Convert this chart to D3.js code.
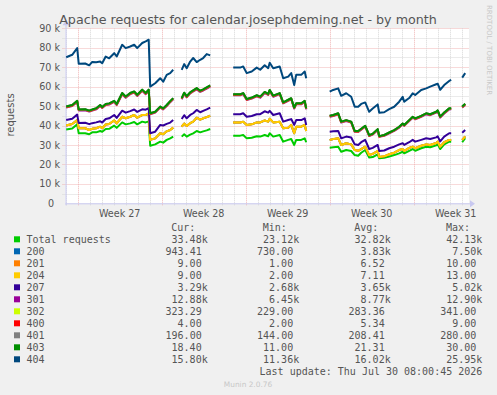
<!DOCTYPE html>
<html><head><meta charset="utf-8">
<script src="https://cdn.jsdelivr.net/npm/d3@7"></script>
<style>html,body{margin:0;padding:0;background:#f0f0f0;}svg{display:block}</style>
</head><body><svg id="c" width="497" height="395"></svg>
<script>
// ---- data (hours after Mon 2026-06-29 00:00; null rows are data gaps) ----
const hours = [-23,-11,-1,2,15,23,29,37,45,49,56,63,73,78,89,96,105,113,119,129,136,142,145,155,165,171,178,185,191,
193,
208,213,218,225,231,238,245,251,258,265,
267,
311,325,331,338,348,358,365,374,381,384,391,404,411,421,427,433,437,447,454,457,
459,
504,511,521,527,537,547,554,561,567,575,583,590,600,603,613,623,633,643,650,653,663,670,675,687,697,705,717,720,725,733,743,747,
749,
769,775];

const total = [38000,38500,40600,36000,36000,35500,36500,36500,37200,36800,38200,38300,39900,38800,41600,40600,41100,41800,40600,42000,41600,42130,29600,30300,31700,31200,32600,33400,34300,
null,
34300,35500,34300,35300,36000,37200,36500,37000,37500,38200,
null,
34800,34800,35100,33400,33700,34500,34300,35100,34500,36000,34300,35100,31700,32600,33100,30000,32600,32600,33400,31400,
null,
28600,28800,29100,26500,27400,26900,24800,24500,26000,27400,23500,23800,25200,23120,23400,24000,24800,25700,26500,25700,27000,27900,27000,28300,29100,28800,29800,30300,27900,30300,31700,31700,
null,
31400,33480];

const s200 = [2000,2300,2200,2600,2600,2200,1800,2100,2200,1800,2300,2500,2700,2300,2900,3100,3400,3600,3400,3400,3800,4150,3000,3100,4300,4300,4400,4300,4600,
null,
5100,5500,5500,5900,6000,6800,6500,6700,6800,6800,
null,
6800,6800,6800,6900,6900,7100,7300,7500,7500,7500,7300,6800,6900,6300,7200,6000,6800,6800,6900,5800,
null,
4000,4200,4300,3500,3500,3400,2600,2500,1900,1700,1300,1600,1700,730,730,1200,1200,1700,1400,1200,1500,1200,1300,1300,1200,1200,1200,1400,1200,1100,900,900,
null,
1200,943];

const s201 = [7,8,6,9,5,7,8,6,7,9,8,6,7,5,8,9,7,6,8,7,10,6,5,7,8,6,9,7,8,
null,
6,7,5,8,6,7,9,6,7,8,
null,
7,6,8,5,7,6,9,8,6,7,5,6,8,7,6,9,7,5,6,8,
null,
6,7,5,8,6,7,4,6,5,7,8,6,1,5,7,6,8,7,5,6,7,9,6,5,7,8,6,7,5,6,8,7,
null,
8,9];

const s204 = [8,7,9,6,8,7,10,7,6,8,9,7,6,8,7,9,11,6,7,8,7,6,9,8,5,7,8,7,6,
null,
7,8,6,9,7,13,8,6,7,8,
null,
7,6,8,7,9,6,8,7,5,6,8,7,6,9,7,8,6,7,5,8,
null,
7,6,8,5,7,6,8,7,6,5,7,8,6,7,2,6,7,8,6,7,5,8,7,6,7,8,6,7,9,7,6,8,
null,
8,9];

const s207 = [2800,2700,2800,2700,2800,3000,2900,3000,2800,2900,2800,2900,2800,2800,3100,2900,2900,2800,3000,2900,2700,2700,3400,3400,4300,4500,3800,3800,3900,
null,
3900,4300,3900,4200,4300,4000,3800,3800,4000,4200,
null,
4200,4200,4400,4200,4300,4200,4200,4700,4600,4000,3800,4400,3400,3900,3000,4300,3400,3400,3400,3100,
null,
4200,4000,3800,3400,3400,3500,2900,3000,3500,3500,3100,3100,3100,3000,3000,3100,3100,2900,3000,3100,2900,3500,3400,3000,3100,3100,2900,2700,2700,2900,3400,3400,
null,
3700,3290];

const s301 = [6450,6500,6500,6450,6450,6450,6450,6700,7800,7500,7200,7100,6700,6600,8500,7700,8700,8700,8200,9500,8000,8800,9800,9800,8900,8300,9200,10500,10700,
null,
10200,11000,10800,11100,11200,10600,10500,10500,10700,10800,
null,
9700,9700,9800,8600,8900,9200,8500,9400,9100,10200,9400,9800,9400,9900,10200,8400,8100,8100,8400,8000,
null,
7700,7900,8600,8100,8000,7700,6450,6700,6450,6800,6700,6800,7700,7300,7600,7700,8100,8600,9700,9800,10900,11400,11500,11900,12400,12200,12700,12900,12300,11900,12300,12300,
null,
12900,12880];

const s302 = [290,295,300,280,285,275,290,295,300,285,290,295,305,300,310,305,315,320,310,325,330,340,270,275,285,280,290,295,300,
null,
295,305,300,310,315,320,315,318,325,330,
null,
300,302,305,295,290,298,302,296,305,310,300,292,280,284,288,276,282,285,288,274,
null,
260,262,266,250,255,252,240,242,248,252,236,238,244,229,232,240,246,250,256,262,258,264,270,268,276,282,286,292,280,290,298,302,
null,
315,323];

const s400 = [5,6,4,7,5,6,8,5,4,6,7,5,6,9,5,4,6,7,5,6,4,5,7,6,5,8,6,5,4,
null,
6,5,7,4,6,5,8,6,5,7,
null,
5,6,4,5,7,6,5,8,6,4,5,7,6,5,4,6,7,5,6,5,
null,
4,6,5,7,5,6,3,4,6,5,7,4,2,5,6,4,5,7,6,4,5,6,4,5,7,6,5,4,6,5,4,5,
null,
5,4];

const s401 = [230,240,250,220,215,210,225,230,235,225,240,245,255,240,260,250,265,270,255,275,268,280,200,205,215,210,222,228,235,
null,
230,245,238,250,255,262,250,256,262,268,
null,
240,238,242,230,232,236,234,240,236,245,232,236,220,225,230,214,226,224,230,215,
null,
205,208,210,198,200,196,185,184,188,194,176,178,182,150,144,152,160,168,162,170,176,172,180,178,186,188,182,176,184,190,194,192,
null,
190,196];

const s403 = [22,24,26,20,21,19,22,23,24,22,25,26,27,24,28,26,29,30,27,29,28,30,18,19,21,20,22,23,24,
null,
23,25,24,26,27,28,26,27,28,29,
null,
24,23,25,22,23,24,23,25,24,26,23,24,20,21,22,19,21,22,23,20,
null,
18,19,20,17,18,17,15,15,16,17,14,14,15,11,12,13,14,15,14,15,16,15,16,16,17,17,16,15,17,18,18,17,
null,
17,18];

const s404 = [25300,25800,27100,23500,23500,23300,24500,23700,22300,22500,24400,23200,24500,24400,24800,24900,23900,24000,24000,24000,26500,25700,13700,14600,14600,13700,15500,14400,14600,
null,
14600,14700,14400,15800,16600,13400,15900,16100,17100,15400,
null,
13700,13700,13700,13300,13400,14200,13800,13700,13200,14000,14100,13700,12400,11900,12900,11600,14600,14600,15100,15500,
null,
12400,12900,12800,13300,13800,12800,12500,12500,12800,12000,12000,13000,12700,12000,11700,12000,12000,12900,13700,12000,11360,12100,12000,13300,12800,14200,14100,13700,13800,14100,14100,14600,
null,
14900,15800];

const seriesNames  = ["Total requests","200","201","204","207","301","302","400","401","403","404"];
const seriesColors = ["#00CC00","#0066B3","#FF8000","#FFCC00","#330099","#990099","#CCFF00","#FF0000","#808080","#008F00","#00487D"];
const seriesValues = [total,s200,s201,s204,s207,s301,s302,s400,s401,s403,s404];
const curLabels = ["33.48k","943.41","9.00","9.00","3.29k","12.88k","323.29","4.00","196.00","18.40","15.80k"];
const minLabels = ["23.12k","730.00","1.00","2.00","2.68k","6.45k","229.00","2.00","144.00","11.00","11.36k"];
const avgLabels = ["32.82k","3.83k","6.52","7.11","3.65k","8.77k","283.36","5.34","208.41","21.31","16.02k"];
const maxLabels = ["42.13k","7.50k","10.00","13.00","5.02k","12.90k","341.00","9.00","280.00","30.00","25.95k"];
const yTickValues = [0,10000,20000,30000,40000,50000,60000,70000,80000,90000];
const yTickLabels = ["0","10 k","20 k","30 k","40 k","50 k","60 k","70 k","80 k","90 k"];

// ---- drawing ----
const svg = d3.select('#c');
const W = 497, H = 395;
svg.append('rect').attr('width', W).attr('height', H).attr('fill', '#f0f0f0');

const base = Date.UTC(2026, 5, 29);
const toDate = h => new Date(base + h * 3600e3);
const P = {l: 65.5, r: 469, t: 28.3, b: 203.3};
const x = d3.scaleUtc().domain([toDate(-24.4), toDate(782.6)]).range([P.l, P.r]);
const y = d3.scaleLinear().domain([0, 90000]).range([P.b, P.t]);

svg.append('rect').attr('x', P.l).attr('y', P.t).attr('width', P.r - P.l).attr('height', P.b - P.t).attr('fill', '#ffffff');

const g = svg.append('g');
const minorCol = '#d6d6d6', majorCol = '#f0b4b4';
// horizontal grid
const minorY = d3.range(5000, 90000, 10000);
g.selectAll('.hminor').data(minorY).join('line')
  .attr('x1', P.l - 3).attr('x2', P.r).attr('y1', d => Math.round(y(d)) + 0.5).attr('y2', d => Math.round(y(d)) + 0.5)
  .attr('stroke', minorCol).attr('stroke-dasharray', '1,1');
g.selectAll('.hmajor').data(yTickValues.slice(1)).join('line')
  .attr('x1', P.l - 3).attr('x2', P.r).attr('y1', d => Math.round(y(d)) + 0.5).attr('y2', d => Math.round(y(d)) + 0.5)
  .attr('stroke', majorCol).attr('stroke-dasharray', '1,1');
// vertical grid
const [d0, d1] = x.domain();
const days = d3.utcDay.range(d3.utcDay.ceil(d0), d1).filter(d => d.getUTCDay() !== 1);
const mondays = d3.utcMonday.range(d3.utcMonday.ceil(d0), d1);
g.selectAll('.vminor').data(days).join('line')
  .attr('x1', d => Math.round(x(d)) + 0.5).attr('x2', d => Math.round(x(d)) + 0.5)
  .attr('y1', P.t).attr('y2', P.b + 3)
  .attr('stroke', minorCol).attr('stroke-dasharray', '1,1');
g.selectAll('.vmajor').data(mondays).join('line')
  .attr('x1', d => Math.round(x(d)) + 0.5).attr('x2', d => Math.round(x(d)) + 0.5)
  .attr('y1', P.t).attr('y2', P.b + 3)
  .attr('stroke', majorCol).attr('stroke-dasharray', '1,1');

// axes
const axisColor = '#c8c8f0';
svg.append('line').attr('x1', P.l - 0).attr('x2', P.r + 2).attr('y1', P.b + 0.5).attr('y2', P.b + 0.5).attr('stroke', axisColor);
svg.append('line').attr('x1', P.l + 0.5).attr('x2', P.l + 0.5).attr('y1', P.b + 2).attr('y2', P.t - 4).attr('stroke', axisColor);
svg.append('path').attr('d', `M${P.r + 1},${P.b - 3}L${P.r + 6},${P.b + 0.5}L${P.r + 1},${P.b + 4}Z`).attr('fill', axisColor);
svg.append('path').attr('d', `M${P.l - 3},${P.t - 3}L${P.l + 0.5},${P.t - 8}L${P.l + 4},${P.t - 3}Z`).attr('fill', axisColor);

// stacked lines
const rows = hours.map((h, i) => ({date: toDate(h), vals: seriesValues.map(s => s[i])}));
const cum = rows.map(r => { let acc = 0; return r.vals.map(v => (v == null ? null : (acc += v))); });
seriesValues.forEach((s, k) => {
  const line = d3.line()
    .defined((r, i) => cum[i][k] != null)
    .x(r => x(r.date))
    .y((r, i) => y(cum[i][k]));
  svg.append('path').datum(rows).attr('d', line)
    .attr('fill', 'none').attr('stroke', seriesColors[k]).attr('stroke-width', 2)
    .attr('stroke-linejoin', 'round');
});

const fontCol = '#555555';
const sans = 'DejaVu Sans, sans-serif';
const mono = 'DejaVu Sans Mono, monospace';
// y labels
svg.selectAll('.ylab').data(yTickValues).join('text')
  .attr('x', (d, i) => i === 0 ? 54 : 60).attr('y', d => y(d) + 3.6)
  .attr('text-anchor', 'end').attr('font-family', sans).attr('font-size', 9.6).attr('fill', fontCol)
  .text((d, i) => yTickLabels[i]);
// x labels
svg.selectAll('.xlab').data(mondays).join('text')
  .attr('x', d => x(d3.utcHour.offset(d, 84))).attr('y', 216.5)
  .attr('text-anchor', 'middle').attr('font-family', sans).attr('font-size', 9.6).attr('fill', fontCol)
  .text(d => 'Week ' + (+d3.utcFormat('%V')(d)));

// title
svg.append('text').attr('x', 248).attr('y', 23.5).attr('text-anchor', 'middle')
  .attr('font-family', sans).attr('font-size', 12.7).attr('fill', fontCol)
  .text('Apache requests for calendar.josephdeming.net - by month');
// y axis title
svg.append('text').attr('transform', 'translate(13.5,115) rotate(-90)').attr('text-anchor', 'middle')
  .attr('font-family', sans).attr('font-size', 10).attr('fill', fontCol).text('requests');
// rrdtool watermark
svg.append('text').attr('transform', 'translate(487,5) rotate(90)').attr('text-anchor', 'start')
  .attr('font-family', sans).attr('font-size', 7).attr('fill', '#c8c8c8').text('RRDTOOL / TOBI OETIKER');

// legend
const colRight = [207.7, 299.2, 390.7, 482.3];
const headers = ['Cur:', 'Min:', 'Avg:', 'Max:'];
headers.forEach((h, j) => {
  svg.append('text').attr('x', colRight[j] - 12.3).attr('y', 230.8).attr('text-anchor', 'end')
    .attr('font-family', mono).attr('font-size', 10).attr('fill', fontCol).text(h);
});
const cols = [curLabels, minLabels, avgLabels, maxLabels];
seriesNames.forEach((name, i) => {
  const cy = 239.3 + 12 * i;
  svg.append('rect').attr('x', 14).attr('y', cy - 3).attr('width', 6).attr('height', 6).attr('fill', seriesColors[i]);
  svg.append('text').attr('x', 26.5).attr('y', cy + 3.6).attr('font-family', mono).attr('font-size', 10)
    .attr('fill', fontCol).attr('xml:space', 'preserve').style('white-space', 'pre').text(name);
  cols.forEach((c, j) => {
    const s = c[i];
    const hasK = s.endsWith('k');
    svg.append('text').attr('x', colRight[j] - (hasK ? 0 : 6.02)).attr('y', cy + 3.6).attr('text-anchor', 'end')
      .attr('font-family', mono).attr('font-size', 10).attr('fill', fontCol).text(s);
  });
});
svg.append('text').attr('x', 482.3).attr('y', 374.6).attr('text-anchor', 'end')
  .attr('font-family', mono).attr('font-size', 10).attr('fill', fontCol)
  .text('Last update: Thu Jul 30 08:00:45 2026');
svg.append('text').attr('x', 248).attr('y', 386.8).attr('text-anchor', 'middle')
  .attr('font-family', sans).attr('font-size', 7.4).attr('fill', '#c8c8c8').text('Munin 2.0.76');
</script></body></html>
